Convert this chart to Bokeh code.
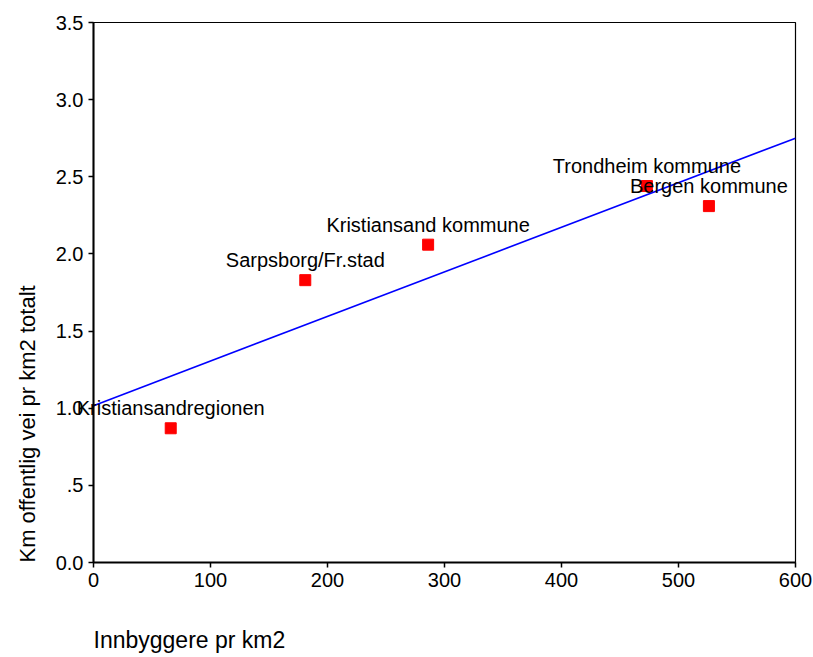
import numpy as np
from bokeh.plotting import figure
from bokeh.models import Range1d, FixedTicker, ColumnDataSource, Title, Label
from bokeh.embed import file_html
from bokeh.resources import INLINE

# Data
names = ["Kristiansandregionen", "Sarpsborg/Fr.stad", "Kristiansand kommune",
         "Trondheim kommune", "Bergen kommune"]
innbyggere = [66, 181, 286, 473, 526]
km_vei = [0.87, 1.83, 2.06, 2.44, 2.31]

x_ticks = [0, 100, 200, 300, 400, 500, 600]
y_ticks = [0.0, 0.5, 1.0, 1.5, 2.0, 2.5, 3.0, 3.5]
y_tick_labels = ["0.0", ".5", "1.0", "1.5", "2.0", "2.5", "3.0", "3.5"]

x_title = "Innbyggere pr km2"
y_title = "Km offentlig vei pr km2 totalt"

FONT = "Liberation Sans"

p = figure(frame_width=702, frame_height=540,
           min_border_left=93, min_border_right=18,
           min_border_top=17, min_border_bottom=94,
           x_range=Range1d(0, 600), y_range=Range1d(0, 3.5),
           output_backend="svg", toolbar_location=None,
           background_fill_color="white", border_fill_color="white")

p.grid.visible = False
p.outline_line_color = "black"
p.outline_line_width = 1.2

for ax in (p.xaxis[0], p.yaxis[0]):
    ax.axis_line_color = "black"
    ax.axis_line_width = 2
    ax.major_tick_line_color = "black"
    ax.major_tick_line_width = 1.5
    ax.major_tick_in = 0
    ax.major_tick_out = 5
    ax.minor_tick_line_color = None
    ax.major_label_text_font = FONT
    ax.major_label_text_font_size = "20px"
    ax.major_label_text_color = "black"
    ax.major_label_standoff = 5

p.xaxis[0].ticker = FixedTicker(ticks=x_ticks)
p.yaxis[0].ticker = FixedTicker(ticks=y_ticks)
p.yaxis[0].major_label_overrides = {t: l for t, l in zip(y_ticks, y_tick_labels)}

# Regression line computed from data
slope, intercept = np.polyfit(innbyggere, km_vei, 1)
lx = [p.x_range.start, p.x_range.end]
ly = [intercept + slope * v for v in lx]
p.line(lx, ly, line_color="#0000FF", line_width=1.6)

src = ColumnDataSource(dict(x=innbyggere, y=km_vei, name=names))
p.scatter("x", "y", source=src, marker="square", size=11,
          fill_color="#FF0000", line_color="#FF0000")

xt = Title(text=x_title, align="left", text_font=FONT, text_color="black",
           text_font_size="23px", text_font_style="normal", standoff=70)
p.add_layout(xt, "below")
yt = Title(text=y_title, align="left", text_font=FONT, text_color="black",
           text_font_size="22px", text_font_style="normal", standoff=25)
p.add_layout(yt, "left")

# point labels; the first one reaches past the frame edge, so it sits in a
# side panel (not clipped); the others stay in the plot area
for i, (nx, ny, nm) in enumerate(zip(innbyggere, km_vei, names)):
    lab = Label(x=nx, y=ny, text=nm, text_align="center",
                text_baseline="middle", y_offset=20, text_font=FONT,
                text_font_size="20px", text_color="black", level="overlay")
    if i == 0:
        p.add_layout(lab, "above")
    else:
        p.add_layout(lab)

open("out.html", "w").write(file_html(p, INLINE))
